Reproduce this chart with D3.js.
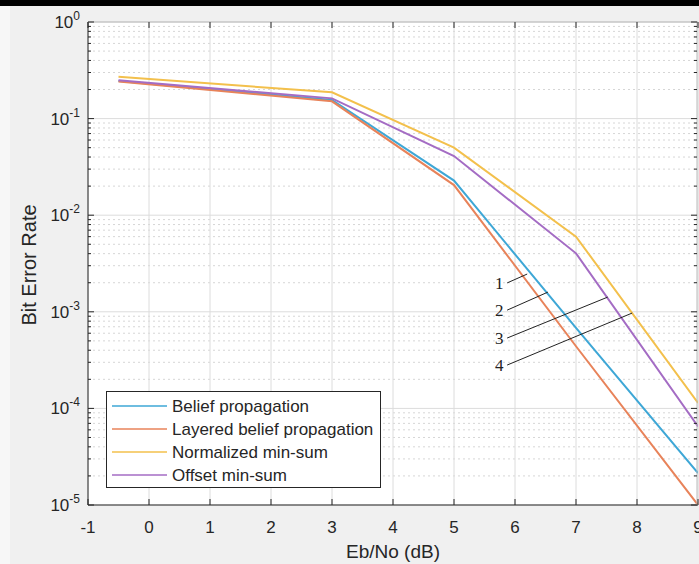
<!DOCTYPE html>
<html>
<head>
<meta charset="utf-8">
<script src="https://cdn.jsdelivr.net/npm/d3@7"></script>
<style>
  body { margin: 0; background: #f0f0f0; }
  svg { display: block; }
</style>
</head>
<body>
<svg id="chart" width="699" height="564"></svg>
<script>
// Eb/No points and BER values
const ebno = [-0.5, 3, 5, 7, 9];
const beliefProp = [0.245, 0.156, 0.0228, 0.00068, 0.0000214];
const layeredBP = [0.242, 0.151, 0.0205, 0.00044, 0.00001];
const normMinSum = [0.271, 0.187, 0.050, 0.0060, 0.000114];
const offsetMinSum = [0.250, 0.162, 0.041, 0.00403, 0.000065];

const seriesNames = ['Belief propagation', 'Layered belief propagation', 'Normalized min-sum', 'Offset min-sum'];
const seriesColors = ['#3ea7d6', '#e8835a', '#f3c04c', '#a46cc4'];
const seriesValues = [beliefProp, layeredBP, normMinSum, offsetMinSum];

const xTicks = [-1, 0, 1, 2, 3, 4, 5, 6, 7, 8, 9];
const yExponents = [0, -1, -2, -3, -4, -5];

// numbered callouts: label, text position, line end (data coords)
const callouts = [
  { label: '1', tx: 5.74, ty: 0.00199, ex: 6.2, ey: 0.00246 },
  { label: '2', tx: 5.74, ty: 0.00104, ex: 6.54, ey: 0.0016 },
  { label: '3', tx: 5.74, ty: 0.000535, ex: 7.52, ey: 0.00142 },
  { label: '4', tx: 5.74, ty: 0.000281, ex: 7.92, ey: 0.00097 }
];

const svg = d3.select('#chart');

const pLeft = 88, pRight = 698, pTop = 22, pBottom = 505;

const x = d3.scaleLinear().domain([-1, 9]).range([pLeft, pRight]);
const y = d3.scaleLog().domain([1e-5, 1]).range([pBottom, pTop]);

// black strip on top, lighter strip at the left edge
svg.append('rect').attr('x', 0).attr('y', 0).attr('width', 699).attr('height', 6).attr('fill', '#000');
svg.append('rect').attr('x', 0).attr('y', 6).attr('width', 10).attr('height', 558).attr('fill', '#f7f7f7');

// axes background
svg.append('rect')
  .attr('x', pLeft).attr('y', pTop)
  .attr('width', pRight - pLeft).attr('height', pBottom - pTop)
  .attr('fill', '#fff');

// minor y values (2..9 x 10^k)
const minorY = [];
for (let e = -5; e < 0; e++) {
  for (let m = 2; m <= 9; m++) minorY.push(m * Math.pow(10, e));
}

const grid = svg.append('g');
grid.selectAll('.minor')
  .data(minorY)
  .enter().append('line')
  .attr('x1', pLeft).attr('x2', pRight)
  .attr('y1', d => y(d)).attr('y2', d => y(d))
  .attr('stroke', '#d6d6d6')
  .attr('stroke-width', 1)
  .attr('stroke-dasharray', '2,3');

grid.selectAll('.majory')
  .data(yExponents)
  .enter().append('line')
  .attr('x1', pLeft).attr('x2', pRight)
  .attr('y1', d => y(Math.pow(10, d))).attr('y2', d => y(Math.pow(10, d)))
  .attr('stroke', '#dcdcdc');

grid.selectAll('.majorx')
  .data(xTicks)
  .enter().append('line')
  .attr('x1', d => x(d)).attr('x2', d => x(d))
  .attr('y1', pTop).attr('y2', pBottom)
  .attr('stroke', '#dcdcdc');

// curves
const line = d3.line()
  .x((d, i) => x(ebno[i]))
  .y(d => y(d));

svg.append('clipPath').attr('id', 'clip')
  .append('rect').attr('x', pLeft).attr('y', pTop).attr('width', pRight - pLeft).attr('height', pBottom - pTop);

svg.append('g').attr('clip-path', 'url(#clip)')
  .selectAll('path')
  .data(seriesValues)
  .enter().append('path')
  .attr('d', d => line(d))
  .attr('fill', 'none')
  .attr('stroke', (d, i) => seriesColors[i])
  .attr('stroke-width', 2);

// axis box
const axisColor = '#262626';
svg.append('line').attr('x1', pLeft).attr('x2', pLeft).attr('y1', pTop).attr('y2', pBottom).attr('stroke', axisColor);
svg.append('line').attr('x1', pLeft).attr('x2', pRight).attr('y1', pBottom).attr('y2', pBottom).attr('stroke', axisColor);
svg.append('line').attr('x1', pLeft).attr('x2', pRight).attr('y1', pTop).attr('y2', pTop).attr('stroke', '#bbb');
svg.append('line').attr('x1', pRight - 1).attr('x2', pRight - 1).attr('y1', pTop).attr('y2', pBottom).attr('stroke', '#bbb');

// tick marks, pointing inward
const ticks = svg.append('g').attr('stroke', axisColor);
xTicks.forEach(t => {
  ticks.append('line').attr('x1', x(t)).attr('x2', x(t)).attr('y1', pBottom).attr('y2', pBottom - 6);
  ticks.append('line').attr('x1', x(t)).attr('x2', x(t)).attr('y1', pTop).attr('y2', pTop + 6);
});
yExponents.forEach(e => {
  ticks.append('line').attr('x1', pLeft).attr('x2', pLeft + 6).attr('y1', y(Math.pow(10, e))).attr('y2', y(Math.pow(10, e)));
  ticks.append('line').attr('x1', pRight - 1).attr('x2', pRight - 7).attr('y1', y(Math.pow(10, e))).attr('y2', y(Math.pow(10, e)));
});
minorY.forEach(v => {
  ticks.append('line').attr('x1', pLeft).attr('x2', pLeft + 3).attr('y1', y(v)).attr('y2', y(v));
  ticks.append('line').attr('x1', pRight - 1).attr('x2', pRight - 4).attr('y1', y(v)).attr('y2', y(v));
});

// tick labels
const font = 'Liberation Sans, Arial, sans-serif';
svg.append('g').selectAll('text')
  .data(xTicks)
  .enter().append('text')
  .attr('x', d => x(d))
  .attr('y', 533)
  .attr('text-anchor', 'middle')
  .attr('font-family', font)
  .attr('font-size', 17)
  .attr('fill', '#262626')
  .text(d => d);

const yl = svg.append('g').selectAll('text')
  .data(yExponents)
  .enter().append('text')
  .attr('x', 80)
  .attr('y', d => y(Math.pow(10, d)) + 6)
  .attr('text-anchor', 'end')
  .attr('font-family', font)
  .attr('font-size', 17)
  .attr('fill', '#262626');
yl.append('tspan').text('10');
yl.append('tspan').attr('dy', -8).attr('font-size', 12).text(d => d);

// axis titles
svg.append('text')
  .attr('x', 393).attr('y', 558)
  .attr('text-anchor', 'middle')
  .attr('font-family', font).attr('font-size', 19)
  .attr('fill', '#262626')
  .text('Eb/No (dB)');

svg.append('text')
  .attr('transform', 'translate(36,265) rotate(-90)')
  .attr('text-anchor', 'middle')
  .attr('font-family', font).attr('font-size', 20)
  .attr('fill', '#262626')
  .text('Bit Error Rate');

// numbered callouts
const co = svg.append('g');
callouts.forEach(c => {
  co.append('text')
    .attr('x', x(c.tx)).attr('y', y(c.ty) + 6)
    .attr('text-anchor', 'middle')
    .attr('font-family', 'Liberation Serif, Times New Roman, serif')
    .attr('font-size', 17)
    .attr('fill', '#222')
    .text(c.label);
  co.append('line')
    .attr('x1', x(c.tx) + 8).attr('y1', y(c.ty))
    .attr('x2', x(c.ex)).attr('y2', y(c.ey))
    .attr('stroke', '#222').attr('stroke-width', 1);
});

// legend
const legend = svg.append('g');
legend.append('rect')
  .attr('x', 106.5).attr('y', 391.5)
  .attr('width', 274).attr('height', 96)
  .attr('fill', '#fff')
  .attr('stroke', axisColor);

seriesNames.forEach((name, i) => {
  const ly = 406 + i * 23;
  legend.append('line')
    .attr('x1', 112).attr('x2', 167)
    .attr('y1', ly).attr('y2', ly)
    .attr('stroke', seriesColors[i]).attr('stroke-width', 1.5);
  legend.append('text')
    .attr('x', 172).attr('y', ly + 6)
    .attr('font-family', font).attr('font-size', 17)
    .attr('fill', '#262626')
    .text(name);
});
</script>
</body>
</html>
